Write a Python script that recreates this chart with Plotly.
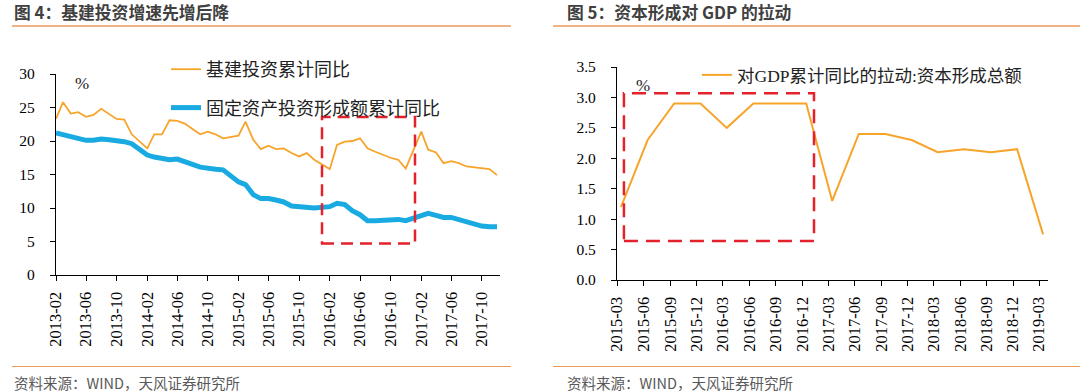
import plotly.graph_objects as go

# ---------------- data: chart 4 ----------------
left_dates = [
    "2013-02", "2013-03", "2013-04", "2013-05", "2013-06", "2013-07", "2013-08", "2013-09", "2013-10", "2013-11", "2013-12",
    "2014-02", "2014-03", "2014-04", "2014-05", "2014-06", "2014-07", "2014-08", "2014-09", "2014-10", "2014-11", "2014-12",
    "2015-02", "2015-03", "2015-04", "2015-05", "2015-06", "2015-07", "2015-08", "2015-09", "2015-10", "2015-11", "2015-12",
    "2016-02", "2016-03", "2016-04", "2016-05", "2016-06", "2016-07", "2016-08", "2016-09", "2016-10", "2016-11", "2016-12",
    "2017-02", "2017-03", "2017-04", "2017-05", "2017-06", "2017-07", "2017-08", "2017-09", "2017-10", "2017-11", "2017-12",
]
infra_yoy = [
    23.3, 25.8, 24.1, 24.3, 23.6, 23.9, 24.8, 24.1, 23.3, 23.2, 21.0,
    18.9, 21.0, 21.0, 23.1, 23.0, 22.6, 21.8, 21.0, 21.4, 21.0, 20.4,
    20.8, 22.9, 20.2, 18.8, 19.3, 18.8, 18.9, 18.2, 17.7, 18.2, 17.2,
    15.8, 19.4, 19.9, 20.0, 20.4, 18.9, 18.4, 17.9, 17.5, 17.2, 15.9,
    21.4, 18.7, 18.3, 16.7, 17.0, 16.7, 16.2, 16.1, 16.0, 15.8, 14.9,
]
fai_yoy = [
    21.2, 20.9, 20.6, 20.4, 20.1, 20.1, 20.3, 20.2, 20.1, 19.9, 19.6,
    17.9, 17.6, 17.3, 17.2, 17.3, 17.0, 16.5, 16.1, 15.9, 15.8, 15.7,
    13.9, 13.5, 12.0, 11.4, 11.4, 11.2, 10.9, 10.3, 10.2, 10.2, 10.0,
    10.2, 10.7, 10.5, 9.6, 9.0, 8.1, 8.1, 8.2, 8.3, 8.3, 8.1,
    8.9, 9.2, 8.9, 8.6, 8.6, 8.3, 7.8, 7.5, 7.3, 7.2, 7.2,
]
left_ticks = ["2013-02", "2013-06", "2013-10", "2014-02", "2014-06", "2014-10", "2015-02", "2015-06",
              "2015-10", "2016-02", "2016-06", "2016-10", "2017-02", "2017-06", "2017-10"]
left_names = ["基建投资累计同比", "固定资产投资形成额累计同比"]

# ---------------- data: chart 5 ----------------
quarters = ["2015-03", "2015-06", "2015-09", "2015-12", "2016-03", "2016-06", "2016-09", "2016-12",
            "2017-03", "2017-06", "2017-09", "2017-12", "2018-03", "2018-06", "2018-09", "2018-12", "2019-03"]
gdp_pull = [1.2, 2.3, 2.9, 2.9, 2.5, 2.9, 2.9, 2.9, 1.3, 2.4, 2.4, 2.3, 2.1, 2.15, 2.1, 2.15, 0.75]
right_name = "对GDP累计同比的拉动:资本形成总额"

W, H = 1080, 392
px = lambda v: v / W
py = lambda v: 1 - v / H

ORANGE = "#F7A42B"
BLUE = "#1AAAE2"
RED = "#E3222B"
RULE = "#EC9A5A"
SERIF = "Liberation Serif, 'Noto Sans CJK SC'"
CJK = "'Noto Sans CJK SC', 'Noto Sans'"

fig = go.Figure()
fig.add_trace(go.Scatter(x=left_dates, y=infra_yoy, mode="lines", name=left_names[0],
                         line=dict(color=ORANGE, width=1.8), xaxis="x", yaxis="y",
                         legend="legend", legendgroup="a"))
fig.add_trace(go.Scatter(x=left_dates, y=fai_yoy, mode="lines", name=left_names[1],
                         line=dict(color=BLUE, width=5), xaxis="x", yaxis="y",
                         legend="legend", legendgroup="b"))
fig.add_trace(go.Scatter(x=[q + "-15" for q in quarters], y=gdp_pull, mode="lines", name=right_name,
                         line=dict(color=ORANGE, width=2), xaxis="x2", yaxis="y2",
                         legend="legend2"))

axis_common = dict(showline=True, linecolor="black", linewidth=1.3, ticks="outside",
                   ticklen=5, tickwidth=1.2, tickcolor="black", showgrid=False, zeroline=False,
                   automargin=False)
xfont = dict(family=SERIF, size=16.5, color="black")
yfont = dict(family=SERIF, size=15.5, color="black")

fig.update_layout(
    width=W, height=H, margin=dict(l=0, r=0, t=0, b=0, pad=0, autoexpand=False),
    paper_bgcolor="white", plot_bgcolor="white",
    xaxis=dict(domain=[px(56), px(500)], anchor="y", type="date",
               range=["2013-02-01", "2017-12-13"], tickvals=left_ticks, ticktext=left_ticks,
               tickangle=-90, ticklabelstandoff=4, tickfont=xfont, **axis_common),
    yaxis=dict(domain=[py(275), py(74)], anchor="x", range=[0, 30], tick0=0, dtick=5,
               ticklabelstandoff=12, tickfont=yfont, **axis_common),
    xaxis2=dict(domain=[px(617), px(1048)], anchor="y2", type="date",
                range=["2015-03-01", "2019-04-01"], tickvals=quarters, ticktext=quarters,
                tickangle=-90, ticklabelstandoff=4, tickfont=xfont, **axis_common),
    yaxis2=dict(domain=[py(280), py(67)], anchor="x2", range=[0, 3.5], tick0=0, dtick=0.5,
                tickformat=".1f", ticklabelstandoff=12, tickfont=yfont, **axis_common),
    legend=dict(x=px(166), y=py(51), xanchor="left", yanchor="top", bgcolor="rgba(0,0,0,0)",
                font=dict(family=CJK, size=18, color="#222"), tracegroupgap=12,
                itemwidth=30),
    legend2=dict(x=px(697), y=py(57), xanchor="left", yanchor="top", bgcolor="rgba(0,0,0,0)",
                 font=dict(family=SERIF, size=17.5, color="#222")),
    showlegend=True,
)

# red dashed highlight boxes (in data coordinates)
fig.add_shape(type="rect", xref="x", yref="y", x0="2016-01-01", x1="2017-01-07", y0=4.7, y1=23.6,
              line=dict(color=RED, width=2.5, dash="12px,7px"))
fig.add_shape(type="rect", xref="x2", yref="y2", x0="2015-03-25", x1="2017-01-11", y0=0.64, y1=3.07,
              line=dict(color=RED, width=2.5, dash="14px,8px"))

# header / footer rules
for x0, x1 in [(12, 511), (553, 1080)]:
    fig.add_shape(type="line", xref="paper", yref="paper", x0=px(x0), x1=px(x1), y0=py(26), y1=py(26),
                  line=dict(color=RULE, width=1.5))
    fig.add_shape(type="line", xref="paper", yref="paper", x0=px(x0), x1=px(x1), y0=py(366.5), y1=py(366.5),
                  line=dict(color=RULE, width=1.2))

# titles
fig.add_annotation(text="<b>图 4：基建投资增速先增后降</b>", x=px(12), y=py(12), xref="paper", yref="paper",
                   xanchor="left", yanchor="middle", showarrow=False,
                   font=dict(family=CJK, size=16.8, color="#404040"))
fig.add_annotation(text="<b>图 5：资本形成对 GDP 的拉动</b>", x=px(565), y=py(12), xref="paper", yref="paper",
                   xanchor="left", yanchor="middle", showarrow=False,
                   font=dict(family=CJK, size=16.8, color="#404040"))
# sources
for x in (12, 565):
    fig.add_annotation(text="资料来源：WIND，天风证券研究所", x=px(x), y=py(382), xref="paper", yref="paper",
                       xanchor="left", yanchor="middle", showarrow=False,
                       font=dict(family=CJK, size=14.5, color="#595959"))
# unit labels
fig.add_annotation(text="%", x=px(82), y=py(83), xref="paper", yref="paper", showarrow=False,
                   xanchor="center", yanchor="middle",
                   font=dict(family=SERIF, size=17, color="#222"))
fig.add_annotation(text="%", x=px(643), y=py(85), xref="paper", yref="paper", showarrow=False,
                   xanchor="center", yanchor="middle",
                   font=dict(family=SERIF, size=17, color="#222"))

fig.write_html("out.html", config={"displayModeBar": False},
               post_script="document.body.style.margin='0px';")
